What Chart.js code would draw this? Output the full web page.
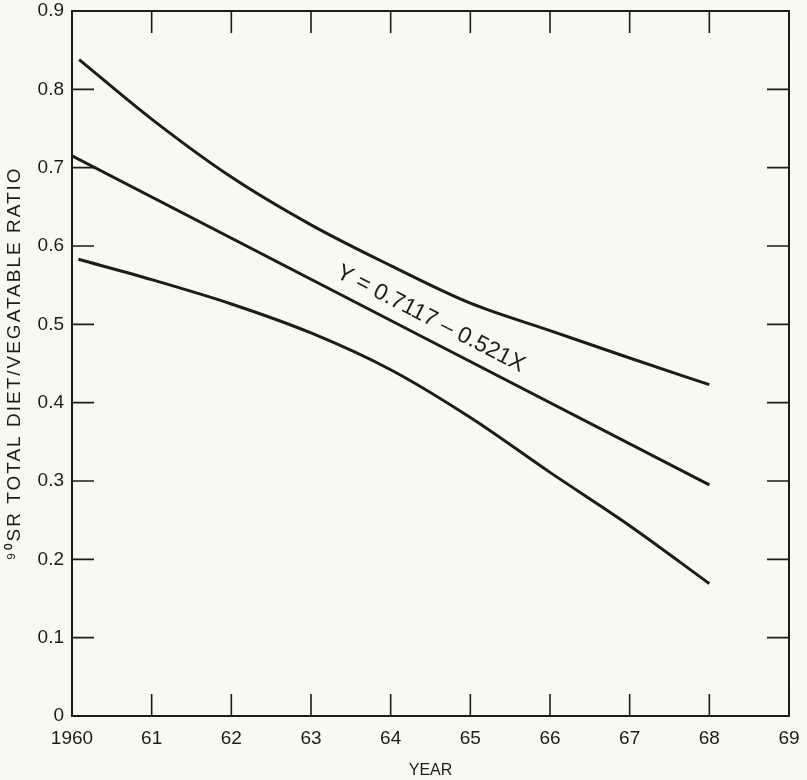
<!DOCTYPE html>
<html><head><meta charset="utf-8">
<script src="https://cdn.jsdelivr.net/npm/chart.js@4.4.1/dist/chart.umd.min.js"></script>
<style>html,body{margin:0;padding:0;background:#f9f9f1;}</style>
</head><body>
<canvas id="c" width="807" height="780"></canvas>
<script>
// Data
const upperYears = [1960.09, 1961, 1962, 1963, 1964, 1965, 1966, 1967, 1968];
const upperRatio = [0.838, 0.762, 0.688, 0.627, 0.575, 0.527, 0.492, 0.457, 0.423];
const fitYears   = [1960, 1968];
const fitRatio   = [0.715, 0.295];
const lowerYears = [1960.08, 1961, 1962, 1963, 1964, 1965, 1966, 1967, 1968];
const lowerRatio = [0.583, 0.557, 0.526, 0.489, 0.442, 0.381, 0.311, 0.243, 0.169];
const xTickLabels = ['1960','61','62','63','64','65','66','67','68','69'];
const yTickLabels = ['0','0.1','0.2','0.3','0.4','0.5','0.6','0.7','0.8','0.9'];
const yTitle = '\u2079\u2070SR TOTAL DIET/VEGATABLE RATIO';
const xTitle = 'YEAR';
const equationText = 'Y = 0.7117 \u2013 0.521X';
const equationAt = {x: 1964.5, y: 0.507};

const INK = '#1c1c1c';
const FONT = "'Liberation Sans', Arial, sans-serif";

function pts(xs, ys){ return xs.map((x,i)=>({x:x, y:ys[i]})); }

const frameTicks = {
  id: 'frameTicks',
  afterDatasetsDraw(chart){
    const {ctx, chartArea:a, scales} = chart;
    const L = 22;
    ctx.save();
    ctx.strokeStyle = INK;
    ctx.lineWidth = 2;
    ctx.strokeRect(a.left, a.top, a.right-a.left, a.bottom-a.top);
    ctx.lineWidth = 1.6;
    ctx.beginPath();
    scales.x.ticks.forEach(t=>{
      const px = scales.x.getPixelForValue(t.value);
      ctx.moveTo(px, a.bottom); ctx.lineTo(px, a.bottom-L);
      ctx.moveTo(px, a.top); ctx.lineTo(px, a.top+L);
    });
    scales.y.ticks.forEach(t=>{
      const py = scales.y.getPixelForValue(t.value);
      ctx.moveTo(a.left, py); ctx.lineTo(a.left+L, py);
      ctx.moveTo(a.right, py); ctx.lineTo(a.right-L, py);
    });
    ctx.stroke();
    ctx.restore();

    // equation label along the fitted line
    ctx.save();
    const x0 = scales.x.getPixelForValue(fitYears[0]), y0 = scales.y.getPixelForValue(fitRatio[0]);
    const x1 = scales.x.getPixelForValue(fitYears[1]), y1 = scales.y.getPixelForValue(fitRatio[1]);
    const ang = Math.atan2(y1-y0, x1-x0);
    ctx.translate(scales.x.getPixelForValue(equationAt.x), scales.y.getPixelForValue(equationAt.y));
    ctx.rotate(ang);
    ctx.fillStyle = INK;
    ctx.font = '23px ' + FONT;
    ctx.textAlign = 'center';
    ctx.textBaseline = 'middle';
    ctx.fillText(equationText, 0, 0);
    ctx.restore();

    // rotated y-axis title
    ctx.save();
    ctx.translate(20, (a.top + a.bottom)/2);
    ctx.rotate(-Math.PI/2);
    ctx.fillStyle = INK;
    ctx.font = '19px ' + FONT;
    if ('letterSpacing' in ctx) ctx.letterSpacing = '2px';
    ctx.textAlign = 'center';
    ctx.textBaseline = 'alphabetic';
    ctx.fillText(yTitle, 0, 0);
    ctx.restore();
  }
};

const lineStyle = {borderColor: INK, borderWidth: 3, pointRadius: 0, fill: false,
                   cubicInterpolationMode: 'monotone', borderCapStyle: 'butt'};

new Chart(document.getElementById('c'), {
  type: 'scatter',
  data: {datasets: [
    Object.assign({label:'upper', data: pts(upperYears, upperRatio), showLine: true}, lineStyle),
    Object.assign({label:'fit', data: pts(fitYears, fitRatio), showLine: true}, lineStyle),
    Object.assign({label:'lower', data: pts(lowerYears, lowerRatio), showLine: true}, lineStyle)
  ]},
  options: {
    responsive: false, animation: false, devicePixelRatio: 1,
    layout: {padding: {left: 0, right: 18, top: 11, bottom: 0}},
    plugins: {legend: {display: false}, tooltip: {enabled: false}},
    scales: {
      x: {
        type: 'linear', min: 1960, max: 1969,
        grid: {display: false, drawTicks: false, tickLength: 0}, border: {display: false},
        ticks: {stepSize: 1, padding: 11, color: INK, font: {family: FONT, size: 19},
                maxRotation: 0, autoSkip: false,
                callback: (v)=> xTickLabels[Math.round(v-1960)]},
        title: {display: true, text: xTitle, color: INK, font: {family: FONT, size: 16}, padding: {top: 4, bottom: 0}},
        afterFit: s => { s.height = 64; s.paddingLeft = 0; s.paddingRight = 0; }
      },
      y: {
        min: 0, max: 0.9,
        grid: {display: false, drawTicks: false, tickLength: 0}, border: {display: false},
        ticks: {stepSize: 0.1, padding: 8, color: INK, font: {family: FONT, size: 19},
                callback: (v)=> yTickLabels[Math.round(v*10)]},
        title: {display: false},
        afterFit: s => { s.width = 72; s.paddingTop = 0; s.paddingBottom = 0; }
      }
    }
  },
  plugins: [frameTicks]
});
</script>
</body></html>
